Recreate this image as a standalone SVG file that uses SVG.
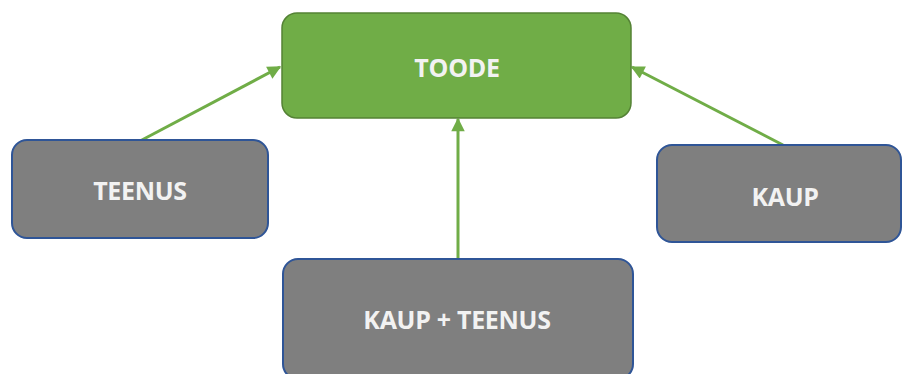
<svg xmlns="http://www.w3.org/2000/svg" width="902" height="374" viewBox="0 0 902 374">
<style>
.green{fill:#70ad47;stroke:#548235;stroke-width:1.5}
.gray{fill:#7f7f7f;stroke:#2f5597;stroke-width:2}
.lbl{font-family:"Open Sans","Liberation Sans",sans-serif;font-weight:bold;font-size:25px;letter-spacing:-0.3px;fill:#f2f2f2;text-anchor:middle;dominant-baseline:central}
.conn{stroke:#70ad47;stroke-width:3;fill:none;marker-end:url(#ah)}
</style>
<defs>
<marker id="ah" viewBox="0 0 10 10" refX="9" refY="5" markerWidth="5" markerHeight="4.5" markerUnits="strokeWidth" orient="auto">
<path d="M0,0 L10,5 L0,10 z" fill="#70ad47"/>
</marker>
</defs>
<rect width="902" height="374" fill="#ffffff"/>
<g id="connectors">
<line class="conn" x1="140" y1="141" x2="280" y2="67"/>
<line class="conn" x1="783" y1="145" x2="632" y2="67"/>
<line class="conn" x1="458" y1="259" x2="458" y2="119"/>
</g>
<g id="toode">
<rect class="green" x="282" y="13" width="349" height="105" rx="15"/>
<text class="lbl" x="457" y="67">TOODE</text>
</g>
<g id="teenus">
<rect class="gray" x="12" y="140" width="256" height="98" rx="15"/>
<text class="lbl" x="140" y="190">TEENUS</text>
</g>
<g id="kaup">
<rect class="gray" x="657" y="145" width="244" height="97" rx="15"/>
<text class="lbl" x="785" y="196">KAUP</text>
</g>
<g id="kaup-teenus">
<rect class="gray" x="283" y="259" width="350" height="120" rx="15"/>
<text class="lbl" x="457" y="319">KAUP + TEENUS</text>
</g>
</svg>
